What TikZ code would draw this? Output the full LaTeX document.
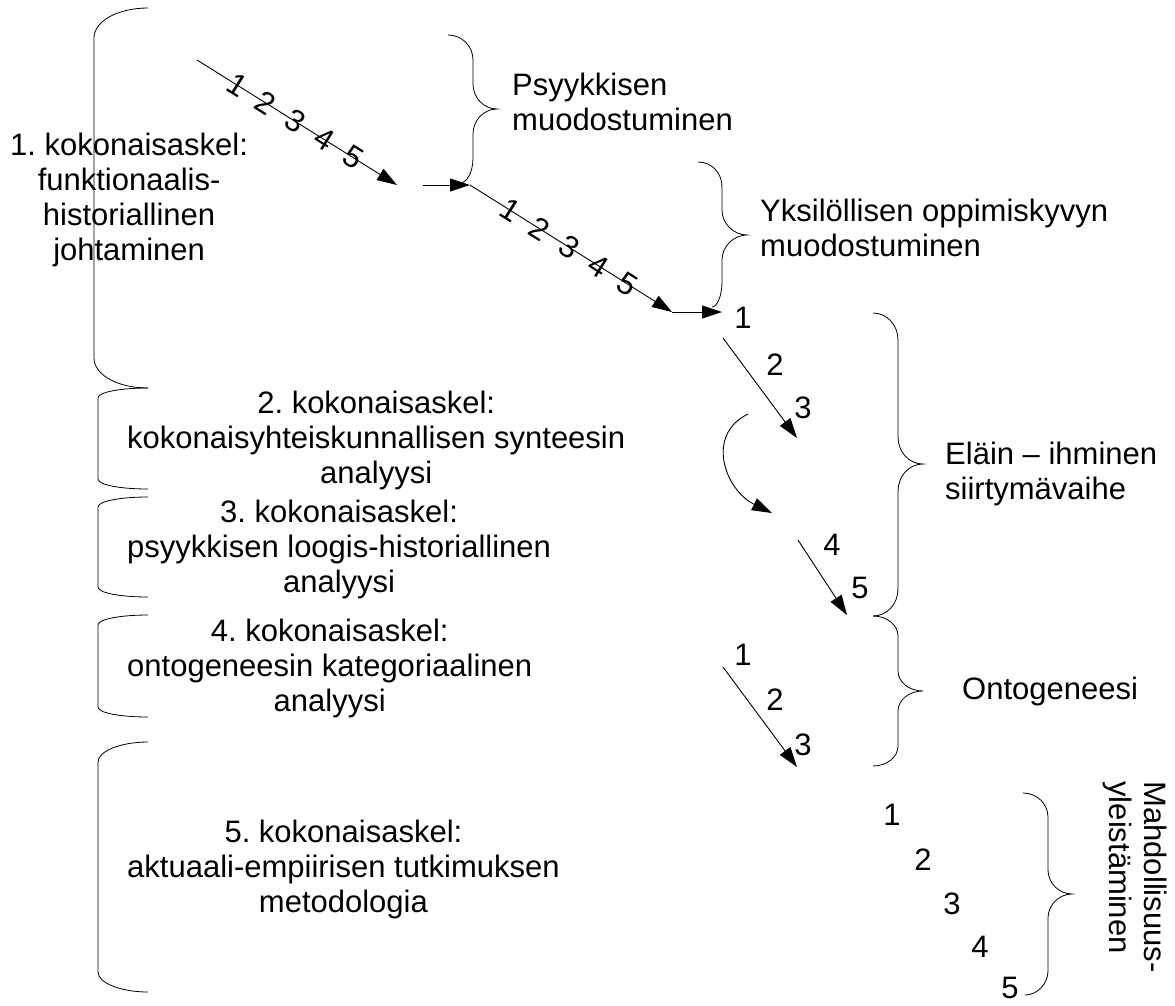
\documentclass[tikz,border=0pt]{standalone}
\usepackage{fontspec}
\setmainfont{Liberation Sans}
\usetikzlibrary{arrows.meta, positioning}

\begin{document}
\begin{tikzpicture}[
  x=1pt, y=-1pt,
  every node/.style = {font=\fontsize{31pt}{35pt}\selectfont\frenchspacing, inner sep=0pt},
  % node styles
  stepnote/.style = {align=center, anchor=west},
  phase/.style    = {align=left},
  digit/.style    = {},
  % line styles
  arr/.style     = {-{Triangle[length=20pt, width=13pt]}, line width=0.9pt},
  bracket/.style = {line width=0.8pt},
]
\useasboundingbox (0,0) rectangle (1175,1005);

%% Left brackets: the five total steps
\draw[bracket] (148,8) .. controls (118,8) and (94,21) .. (94,38)
  -- (94,358) .. controls (94,375) and (118,388) .. (148,388);
\draw[bracket] (148,388) .. controls (121,388) and (98,392) .. (98,398)
  -- (98,479) .. controls (98,485) and (121,489) .. (148,489);
\draw[bracket] (148,497) .. controls (121,497) and (98,501) .. (98,507)
  -- (98,587) .. controls (98,593) and (121,597) .. (148,597);
\draw[bracket] (148,615) .. controls (121,615) and (98,619) .. (98,625)
  -- (98,707) .. controls (98,713) and (121,717) .. (148,717);
\draw[bracket] (148,742) .. controls (121,742) and (98,751) .. (98,762)
  -- (98,972) .. controls (98,983) and (121,992) .. (148,992);

%% Step texts
\node[stepnote] (step1) at (10,200)
  {1. kokonaisaskel:\\funktionaalis-\\historiallinen\\johtaminen};
\node[stepnote] (step2) at (127,440)
  {2. kokonaisaskel:\\kokonaisyhteiskunnallisen synteesin\\analyysi};
\node[stepnote] (step3) at (127,549)
  {3. kokonaisaskel:\\psyykkisen loogis-historiallinen\\analyysi};
\node[stepnote] (step4) at (127,668)
  {4. kokonaisaskel:\\ontogeneesin kategoriaalinen\\analyysi};
\node[stepnote] (step5) at (127,869)
  {5. kokonaisaskel:\\aktuaali-empiirisen tutkimuksen\\metodologia};

%% Diagonal chain of step 1
\coordinate (a1s) at (197,60);
\coordinate (a1e) at (397,185);
\coordinate (h1s) at (423,185);
\coordinate (a2s) at (470,185);
\coordinate (a2e) at (672,312);
\coordinate (h2e) at (722,312);

\draw[arr] (a1s) -- (a1e)
  node[digit, sloped, pos=0.20]  (p1) {1}
  node[digit, sloped, pos=0.345] (p2) {2}
  node[digit, sloped, pos=0.49]  (p3) {3}
  node[digit, sloped, pos=0.635] (p4) {4}
  node[digit, sloped, pos=0.78]  (p5) {5};
\draw[arr] (h1s) -- (a2s);
\draw[arr] (a2s) -- (a2e)
  node[digit, sloped, pos=0.20]  (y1) {1}
  node[digit, sloped, pos=0.345] (y2) {2}
  node[digit, sloped, pos=0.49]  (y3) {3}
  node[digit, sloped, pos=0.635] (y4) {4}
  node[digit, sloped, pos=0.78]  (y5) {5};
\draw[arr] (a2e) -- (h2e);

%% Transition phase
\node[digit] (e1) at (743,318) {1};
\node[digit] (e2) at (775,365) {2};
\node[digit] (e3) at (803,408) {3};
\node[digit] (e4) at (832,545) {4};
\node[digit] (e5) at (860,588) {5};
\coordinate (e13s) at (723,338);
\coordinate (e13e) at (797,438);
\coordinate (bends) at (748,414);
\coordinate (bende) at (772,513);
\coordinate (e45s) at (798,540);
\coordinate (e45e) at (847,615);
\draw[arr] (e13s) -- (e13e);
\draw[arr] (bends) .. controls (705,435) and (725,490) .. (bende);
\draw[arr] (e45s) -- (e45e);

%% Ontogenesis
\node[digit] (o1) at (743,655) {1};
\node[digit] (o2) at (775,700) {2};
\node[digit] (o3) at (803,745) {3};
\coordinate (o13s) at (723,667);
\coordinate (o13e) at (797,767);
\draw[arr] (o13s) -- (o13e);

%% Generalisation
\node[digit] (g1) at (892,815) {1};
\node[digit] (g2) at (923,860) {2};
\node[digit] (g3) at (952,904) {3};
\node[digit] (g4) at (980,947) {4};
\node[digit] (g5) at (1010,988) {5};

%% Right braces
\draw[bracket] (448,35) .. controls (462,35) and (473,46) .. (473,60)
  -- (473,84) .. controls (473,98) and (484,109) .. (497,109)
  .. controls (484,109) and (473,120) .. (473,134)
  -- (473,158) .. controls (473,172) and (467,183) .. (460,183);
\draw[bracket] (698,162) .. controls (712,162) and (722,173) .. (722,187)
  -- (722,210) .. controls (722,224) and (734,235) .. (747,235)
  .. controls (734,235) and (722,246) .. (722,260)
  -- (722,282) .. controls (722,296) and (717,307) .. (712,307);
\draw[bracket] (873,313) .. controls (887,313) and (898,325) .. (898,340)
  -- (898,437) .. controls (898,452) and (909,464) .. (923,464)
  .. controls (909,464) and (898,476) .. (898,491)
  -- (898,589) .. controls (898,604) and (887,616) .. (873,616);
\draw[bracket] (873,616) .. controls (887,616) and (898,625) .. (898,636)
  -- (898,671) .. controls (898,682) and (909,691) .. (923,691)
  .. controls (909,691) and (898,700) .. (898,711)
  -- (898,746) .. controls (898,757) and (887,766) .. (873,766);
\draw[bracket] (1023,793) .. controls (1037,793) and (1048,804) .. (1048,817)
  -- (1048,870) .. controls (1048,883) and (1059,894) .. (1072,894)
  .. controls (1059,894) and (1048,905) .. (1048,918)
  -- (1048,971) .. controls (1048,984) and (1037,995) .. (1025,995);

%% Brace labels
\coordinate (psyTip) at (497,109);
\coordinate (yksTip) at (747,235);
\coordinate (elaTip) at (923,464);
\coordinate (ontTip) at (923,691);
\node[phase, right=15pt of psyTip, yshift=7pt]  (psy) {Psyykkisen\\muodostuminen};
\node[phase, right=13pt of yksTip, yshift=7pt]  (yks) {Yksilöllisen oppimiskyvyn\\muodostuminen};
\node[phase, right=22pt of elaTip, yshift=-10pt] (ela) {Eläin – ihminen\\siirtymävaihe};
\node[phase, right=39pt of ontTip]              (ont) {Ontogeneesi};
\node[phase, rotate=-90] (mah) at (1135,877) {Mahdollisuus-\\yleistäminen};

\end{tikzpicture}
\end{document}
